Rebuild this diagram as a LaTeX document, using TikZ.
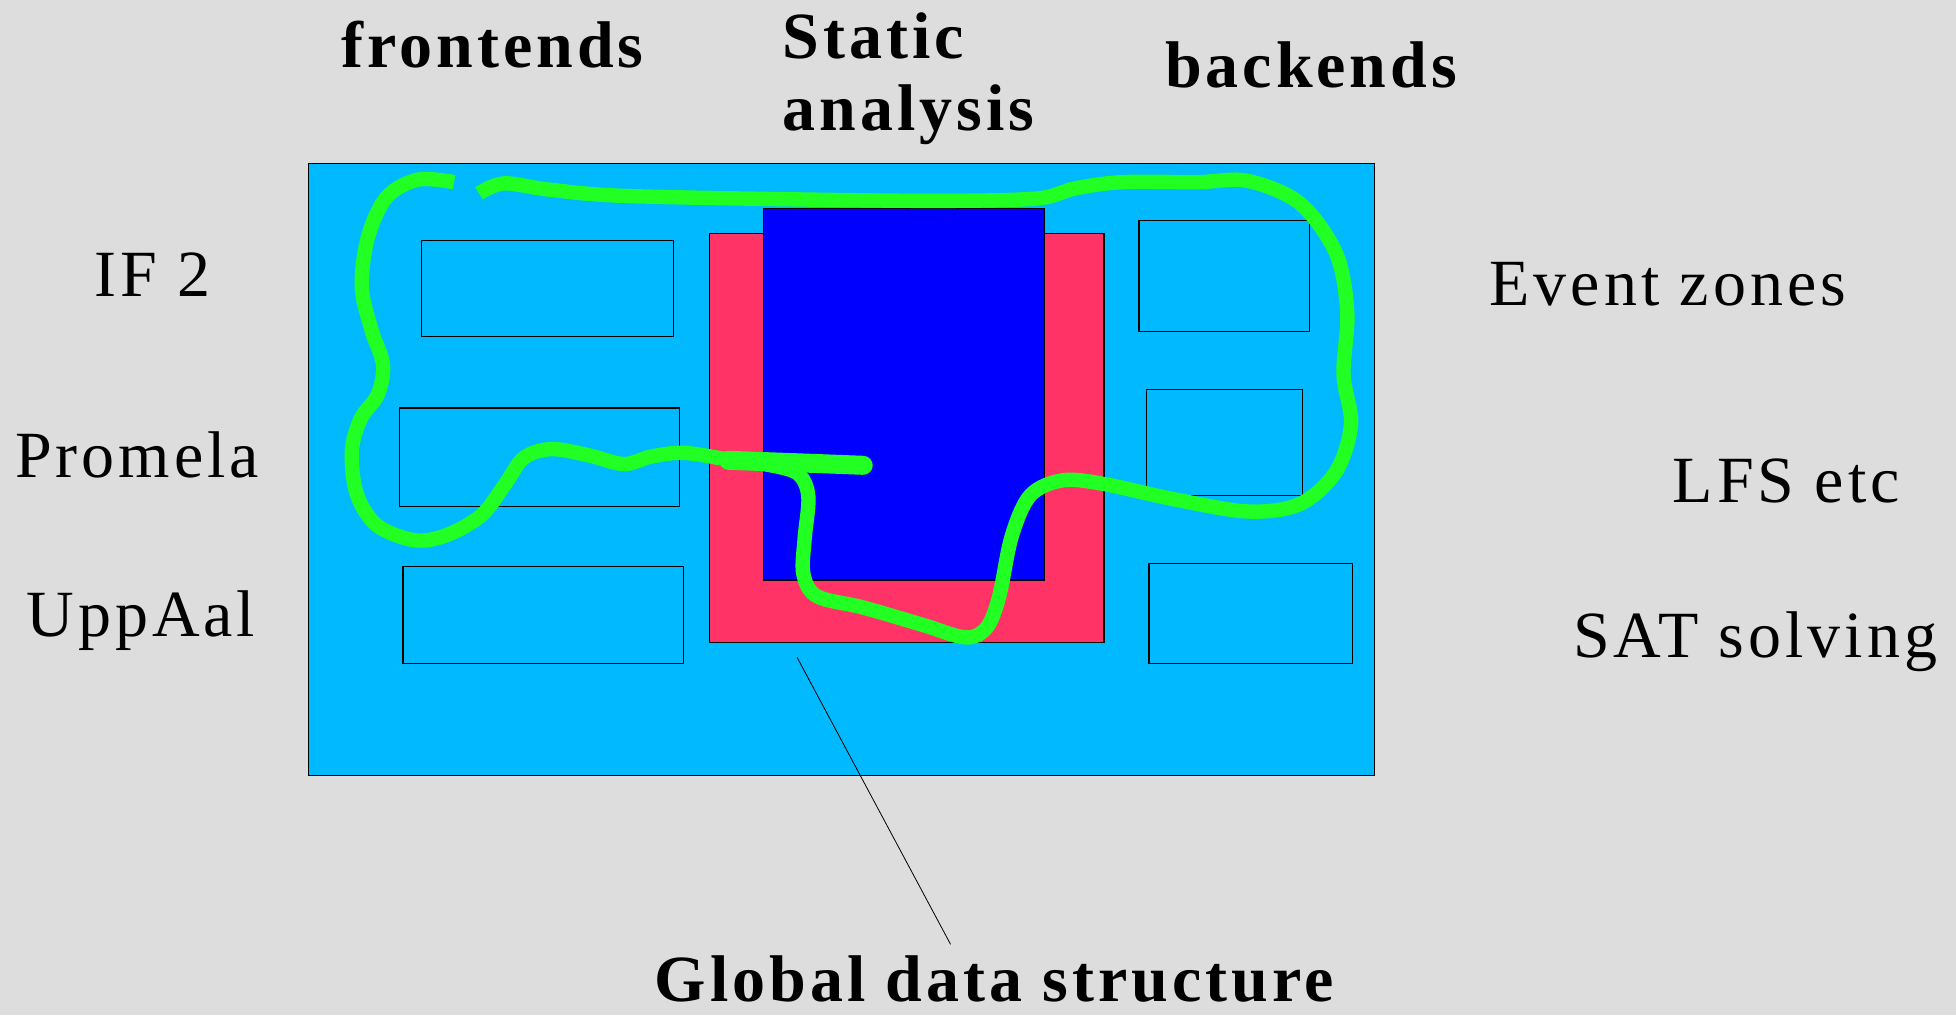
\documentclass[tikz,border=0pt]{standalone}
\usepackage{fontspec}
\setmainfont{Liberation Serif}
\usepackage{tikz}
\usetikzlibrary{calc,positioning}
\definecolor{paper}{HTML}{DDDDDD}
\definecolor{sky}{HTML}{00B9FF}
\definecolor{rose}{HTML}{FF3366}
\definecolor{deepblue}{HTML}{0000FF}
\definecolor{lime}{HTML}{22FF22}
\def\px{0.6237pt}
\tikzset{
  panel/.style={draw=black,line width=.5pt},
  slot/.style={draw=black,line width=.6pt},
  tag/.style={font=\fontsize{33}{36}\selectfont\addfontfeature{LetterSpace=6},anchor=base},
  head/.style={tag,font=\fontsize{33}{36}\selectfont\bfseries\addfontfeature{LetterSpace=6}},
  route/.style={draw=lime,line width=7.2pt,line cap=butt,line join=round},
  pointer/.style={draw=black,line width=.4pt}
}
\begin{document}
\begin{tikzpicture}[x=\px,y=-\px]
  \fill[paper] (0,0) rectangle (1568,814);
  \useasboundingbox (0,0) rectangle (1568,814);
  % tool frame
  \filldraw[panel,fill=sky] (247,131) rectangle (1102,622);
  \filldraw[slot,fill=rose] (569,187) rectangle (885,515);
  \filldraw[slot,fill=deepblue] (612,167) rectangle (837,465);
  % frontend and backend slots
  \draw[slot] (338,193) rectangle (540,270);
  \draw[slot] (320,327) rectangle (545,406);
  \draw[slot] (323,454) rectangle (548,532);
  \draw[slot] (913,177) rectangle (1050,266);
  \draw[slot] (919,312) rectangle (1044,397);
  \draw[slot] (921,452) rectangle (1084,532);
  % control flow
  \draw[route] plot[smooth,tension=.55] coordinates {
    (364,146) (335,144) (310,158) (295,190) (290,230) (298,265) (307,292)
    (303,316) (289,336) (282,362) (286,396) (302,421) (332,433) (358,429)
    (386,413) (405,388) (420,367) (442,360) (472,365) (500,372) (522,366)
    (548,363) (582,368) (618,373) (640,380) (648,398) (645,432) (644,460)
    (655,478) (692,487) (740,501) (774,511) (791,503) (801,478) (811,430)
    (826,397) (852,385) (885,388) (940,400) (1000,410) (1042,404) (1071,378)
    (1083,340) (1077,300) (1080,250) (1071,203) (1042,163) (1000,145)
    (960,146) (900,146) (862,151) (832,159) (760,161) (650,160) (500,157)
    (440,152) (404,147) (384,155)};
  \draw[route,line width=9.5pt,line cap=round] (584,369) -- (640,371) -- (692,373);
  % labels
  \node[head] (fe) at (395,54) {frontends};
  \node[head,anchor=base west,align=left,inner xsep=0pt] (sa) at (627,105) {Static\\analysis};
  \node[head] (be) at (1051,70) {backends};
  \node[tag] (if2) at (122,238) {IF 2};
  \node[tag] (prom) at (110,383) {Promela};
  \node[tag] (upp) at (113,510) {UppAal};
  \node[tag] (ez) at (1337,245) {Event zones};
  \node[tag] (lfs) at (1432,403) {LFS etc};
  \node[tag] (sat) at (1407,527) {SAT solving};
  \node[head,inner ysep=0pt] (gds) at (797,803) {Global data structure};
  \coordinate (gdstip) at (639,527);
  \coordinate (gdsfoot) at (762,757);
  \draw[pointer] (gdstip) -- (gdsfoot);
\end{tikzpicture}
\end{document}
